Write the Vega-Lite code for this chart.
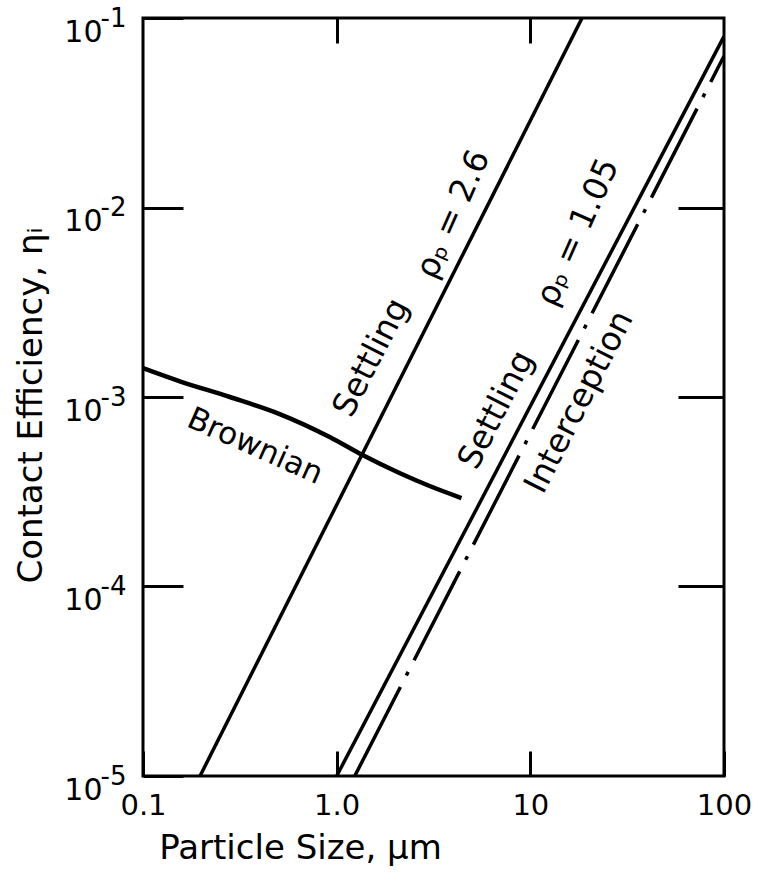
{
  "$schema": "https://vega.github.io/schema/vega-lite/v6.json",
  "width": 581,
  "height": 758,
  "autosize": "none",
  "padding": {"left": 143, "top": 18, "right": 38, "bottom": 105},
  "background": "white",
  "config": {
    "view": {"stroke": "black", "strokeWidth": 3},
    "font": "DejaVu Sans",
    "axis": {
      "grid": false,
      "domain": false,
      "tickColor": "black",
      "tickWidth": 3,
      "labelColor": "black",
      "titleColor": "black",
      "labelFont": "DejaVu Sans",
      "titleFont": "DejaVu Sans",
      "labelFontWeight": "normal",
      "titleFontWeight": "normal",
      "labelFontSize": 29,
      "titleFontSize": 34
    }
  },
  "datasets": {
    "curves": [
      {"series": "Brownian", "d": 0.1, "eta": 0.00142},
      {"series": "Brownian", "d": 0.155, "eta": 0.00121},
      {"series": "Brownian", "d": 0.281, "eta": 0.00100},
      {"series": "Brownian", "d": 0.508, "eta": 0.000813},
      {"series": "Brownian", "d": 0.92, "eta": 0.000615},
      {"series": "Brownian", "d": 1.36, "eta": 0.000494},
      {"series": "Brownian", "d": 2.11, "eta": 0.000397},
      {"series": "Brownian", "d": 3.02, "eta": 0.000339},
      {"series": "Brownian", "d": 4.41, "eta": 0.000293},
      {"series": "Settling 2.6", "d": 0.197, "eta": 0.00001},
      {"series": "Settling 2.6", "d": 18.5, "eta": 0.1},
      {"series": "Settling 1.05", "d": 1.0, "eta": 0.00001},
      {"series": "Settling 1.05", "d": 100, "eta": 0.08},
      {"series": "Interception", "d": 1.24, "eta": 0.00001},
      {"series": "Interception", "d": 100, "eta": 0.063}
    ]
  },
  "layer": [
    {
      "data": {"name": "curves"},
      "transform": [{"filter": "datum.series === 'Brownian'"}],
      "mark": {"type": "line", "color": "black", "strokeWidth": 4.5, "clip": true, "interpolate": "monotone"},
      "encoding": {
        "x": {
          "field": "d", "type": "quantitative",
          "scale": {"type": "log", "domain": [0.1, 100], "nice": false},
          "axis": {
            "orient": "bottom",
            "title": "Particle Size, μm",
            "values": [0.1, 1, 10, 100],
            "labelExpr": "datum.value < 0.5 ? '0.1' : datum.value < 5 ? '1.0' : datum.value < 50 ? '10' : '100'",
            "tickSize": -25,
            "labelPadding": 40,
            "labelFlush": false,
            "labelOverlap": false,
            "titleX": 157,
            "titleY": 72,
            "titleAlign": "center",
            "titleBaseline": "middle"
          }
        },
        "y": {
          "field": "eta", "type": "quantitative",
          "scale": {"type": "log", "domain": [0.00001, 0.1], "nice": false},
          "axis": {
            "orient": "left",
            "title": "Contact Efficiency, ηᵢ",
            "titleFontSize": 34,
            "values": [0.00001, 0.0001, 0.001, 0.01, 0.1],
            "labelExpr": "'10'",
            "labelFontSize": 30,
            "tickSize": -40,
            "labelPadding": 81,
            "labelOffset": 14,
            "labelFlush": false,
            "labelOverlap": false,
            "labelBaseline": "middle",
            "titleX": -112,
            "titleY": 387,
            "titleAngle": -90,
            "titleAlign": "center",
            "titleBaseline": "middle"
          }
        }
      }
    },
    {
      "data": {"name": "curves"},
      "transform": [{"filter": "datum.series === 'Settling 2.6' || datum.series === 'Settling 1.05'"}],
      "mark": {"type": "line", "color": "black", "strokeWidth": 3.5, "clip": true},
      "encoding": {
        "x": {"field": "d", "type": "quantitative", "scale": {"type": "log", "domain": [0.1, 100], "nice": false},
          "axis": {"orient": "top", "labels": false, "title": null, "values": [1, 10], "tickSize": -25}},
        "y": {"field": "eta", "type": "quantitative", "scale": {"type": "log", "domain": [0.00001, 0.1], "nice": false},
          "axis": {"orient": "right", "labels": false, "title": null, "values": [0.0001, 0.001, 0.01], "tickSize": -46}},
        "detail": {"field": "series"}
      }
    },
    {
      "data": {"name": "curves"},
      "transform": [{"filter": "datum.series === 'Interception'"}],
      "mark": {"type": "line", "color": "black", "strokeWidth": 3.5, "strokeDash": [100, 13, 4, 13], "clip": true},
      "encoding": {
        "x": {"field": "d", "type": "quantitative", "scale": {"type": "log", "domain": [0.1, 100], "nice": false}, "axis": null},
        "y": {"field": "eta", "type": "quantitative", "scale": {"type": "log", "domain": [0.00001, 0.1], "nice": false},
          "axis": {
            "orient": "left",
            "title": null,
            "ticks": false,
            "values": [0.00001, 0.0001, 0.001, 0.01, 0.1],
            "labelExpr": "datum.value < 0.00005 ? '-5' : datum.value < 0.0005 ? '-4' : datum.value < 0.005 ? '-3' : datum.value < 0.05 ? '-2' : '-1'",
            "labelFontSize": 26,
            "labelPadding": 17,
            "labelOffset": 0,
            "labelFlush": false,
            "labelOverlap": false,
            "labelBaseline": "middle"
          }}
      }
    },
    {
      "data": {"values": [{"d": 0.378, "eta": 0.000545, "label": "Brownian"}]},
      "mark": {"type": "text", "angle": 24, "fontSize": 31, "font": "DejaVu Sans", "color": "black", "align": "center", "baseline": "middle"},
      "encoding": {
        "x": {"field": "d", "type": "quantitative", "scale": {"type": "log", "domain": [0.1, 100], "nice": false}, "axis": null},
        "y": {"field": "eta", "type": "quantitative", "scale": {"type": "log", "domain": [0.00001, 0.1], "nice": false}, "axis": null},
        "text": {"field": "label"}
      }
    },
    {
      "data": {"values": [
        {"d": 1.51, "eta": 0.00161, "label": "Settling"},
        {"d": 6.68, "eta": 0.000853, "label": "Settling"},
        {"d": 17.9, "eta": 0.00094, "label": "Interception"}
      ]},
      "mark": {"type": "text", "angle": -63, "fontSize": 33, "font": "DejaVu Sans", "color": "black", "align": "center", "baseline": "middle"},
      "encoding": {
        "x": {"field": "d", "type": "quantitative", "scale": {"type": "log", "domain": [0.1, 100], "nice": false}, "axis": null},
        "y": {"field": "eta", "type": "quantitative", "scale": {"type": "log", "domain": [0.00001, 0.1], "nice": false}, "axis": null},
        "text": {"field": "label"}
      }
    },
    {
      "data": {"values": [
        {"d": 4.0, "eta": 0.0092, "label": "ρₚ = 2.6"},
        {"d": 17.6, "eta": 0.0074, "label": "ρₚ = 1.05"}
      ]},
      "mark": {"type": "text", "angle": -66, "fontSize": 33, "font": "DejaVu Sans", "color": "black", "align": "center", "baseline": "middle"},
      "encoding": {
        "x": {"field": "d", "type": "quantitative", "scale": {"type": "log", "domain": [0.1, 100], "nice": false}, "axis": null},
        "y": {"field": "eta", "type": "quantitative", "scale": {"type": "log", "domain": [0.00001, 0.1], "nice": false}, "axis": null},
        "text": {"field": "label"}
      }
    }
  ],
  "resolve": {"axis": {"x": "independent", "y": "independent"}}
}
